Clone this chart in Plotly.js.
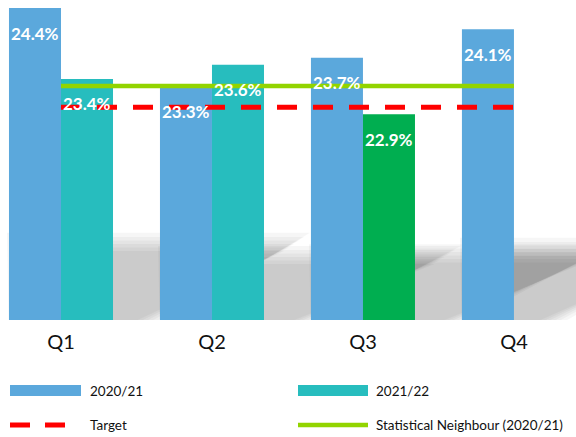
<!DOCTYPE html>
<html><head><meta charset="utf-8">
<script src="https://cdn.plot.ly/plotly-3.0.1.min.js"></script>
<style>html,body{margin:0;padding:0;background:#fff}#chart{width:576px;height:437px}</style>
</head><body><div id="chart"></div>
<script>
// ---- data ----
const quarters = ['Q1', 'Q2', 'Q3', 'Q4'];
const values2021 = [24.4, 23.3, 23.7, 24.1];
const values2122 = [23.4, 23.6, 22.9, null];
const targetValues = [23.0, 23.0, 23.0, 23.0];
const neighbourValues = [23.3, 23.3, 23.3, 23.3];
const seriesNames = ['2020/21', '2021/22', 'Target', 'Statistical Neighbour (2020/21)'];

// ---- styles ----
const blue = '#5BA8DC', teal = '#27BDBE', green = '#00AE50', lime = '#92D400', red = '#FF0000';
const colors2122 = [teal, teal, green, teal];
const xRange = [-0.404, 3.411];
const yRange = [20, 24.513];
const bargap = 0.311;
const W = 576, H = 437, plotH = 320;
const font = 'Lato, "Open Sans", "DejaVu Sans", sans-serif';

const traces = [
  { type: 'bar', name: seriesNames[0], x: quarters, y: values2021,
    marker: { color: blue }, showlegend: false, hoverinfo: 'skip' },
  { type: 'bar', name: seriesNames[1], x: quarters, y: values2122,
    marker: { color: colors2122 }, showlegend: false, hoverinfo: 'skip' },
  { type: 'scatter', mode: 'lines', name: seriesNames[3], x: quarters, y: neighbourValues,
    line: { color: lime, width: 4.5 }, showlegend: false, hoverinfo: 'skip' },
  { type: 'scatter', mode: 'lines', name: seriesNames[2], x: quarters, y: targetValues,
    line: { color: red, width: 5, dash: '20px,16px' }, showlegend: false, hoverinfo: 'skip' }
];

// ---- decorative perspective shadows, one per bar group, derived from the bar data ----
const pxPerCat = W / (xRange[1] - xRange[0]);
const pxPerY = plotH / (yRange[1] - yRange[0]);
const hw = (1 - bargap) / 4;
const shapes = [];
quarters.forEach((q, i) => {
  const present = [];
  if (values2021[i] !== null) present.push([i - hw, values2021[i]]);
  if (values2122[i] !== null) present.push([i + hw, values2122[i]]);
  if (!present.length) return;
  const x0 = Math.min(...present.map(p => p[0])) - hw;
  const x1 = Math.max(...present.map(p => p[0])) + hw;
  const v = Math.max(...present.map(p => p[1]));
  const hpx = 0.23 * (v - yRange[0]) * pxPerY;
  [22, 16, 11, 6, 1, -4].forEach(e => {
    const top = yRange[0] + (hpx + e * 0.7) / pxPerY;
    const bx = x1 + (e * 1.3) / pxPerCat;
    const tx = x1 + (175 + e) / pxPerCat;
    const lx = x0 + (20 - e) / pxPerCat;
    shapes.push({ type: 'path', xref: 'x', yref: 'y', layer: 'below',
      path: `M ${x0},${yRange[0] - 0.2} L ${bx},${yRange[0] - 0.2} L ${tx},${top} L ${lx},${top} Z`,
      fillcolor: 'rgba(0,0,0,0.036)', line: { width: 0 } });
  });
});

// ---- value labels ----
const annotations = [];
quarters.forEach((q, i) => {
  [[values2021[i], -1], [values2122[i], 1]].forEach(([v, s]) => {
    if (v === null) return;
    annotations.push({ x: q, y: v, xref: 'x', yref: 'y', showarrow: false,
      text: v.toFixed(1) + '%', xshift: s * hw * pxPerCat, yshift: -25,
      yanchor: 'middle', font: { family: font, size: 17, color: '#ffffff', weight: 700 } });
  });
});

// ---- custom legend ----
const py = p => (plotH - p) / plotH;   // pixel row -> paper y
const px = p => p / W;                 // pixel col -> paper x
shapes.push({ type: 'rect', xref: 'paper', yref: 'paper', x0: px(10), x1: px(81), y0: py(385), y1: py(396),
  fillcolor: blue, line: { width: 0 } });
shapes.push({ type: 'rect', xref: 'paper', yref: 'paper', x0: px(298), x1: px(368), y0: py(385), y1: py(396),
  fillcolor: teal, line: { width: 0 } });
shapes.push({ type: 'line', xref: 'paper', yref: 'paper', x0: px(10), x1: px(66), y0: py(425), y1: py(425),
  line: { color: red, width: 5, dash: '20px,15px' } });
shapes.push({ type: 'line', xref: 'paper', yref: 'paper', x0: px(298), x1: px(368), y0: py(425), y1: py(425),
  line: { color: lime, width: 4.5 } });
[[seriesNames[0], 88, 391], [seriesNames[1], 374, 391], [seriesNames[2], 88, 425], [seriesNames[3], 374, 425]]
  .forEach(([t, x, y]) => annotations.push({ xref: 'paper', yref: 'paper', x: px(x), y: py(y),
    xanchor: 'left', yanchor: 'middle', showarrow: false, text: t,
    font: { family: font, size: 13.5, color: '#111111' } }));

const layout = {
  width: W, height: H, autosize: false,
  margin: { l: 0, r: 0, t: 0, b: H - plotH, pad: 0 },
  paper_bgcolor: '#ffffff', plot_bgcolor: 'rgba(0,0,0,0)',
  barmode: 'group', bargap: bargap, bargroupgap: 0,
  showlegend: false,
  xaxis: { type: 'category', range: xRange, showgrid: false, zeroline: false, showline: false,
    ticks: '', tickfont: { family: font, size: 20, color: '#111111' }, ticklabelstandoff: 8, fixedrange: true },
  yaxis: { range: yRange, showgrid: false, zeroline: false, showline: false, showticklabels: false,
    ticks: '', fixedrange: true },
  shapes: shapes,
  annotations: annotations
};

Plotly.newPlot('chart', traces, layout, { displayModeBar: false, staticPlot: true });
</script>
</body></html>
